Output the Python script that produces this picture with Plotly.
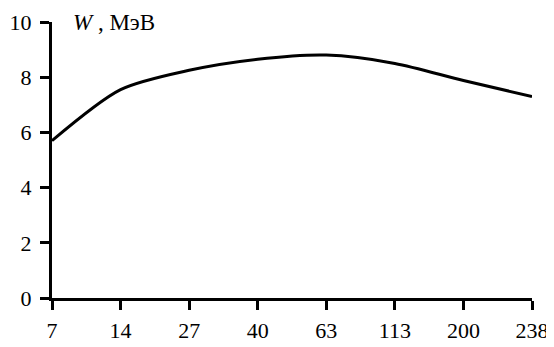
import plotly.graph_objects as go

mass_numbers = ["7", "14", "27", "40", "63", "113", "200", "238"]
binding_energy = [5.7, 7.55, 8.25, 8.65, 8.8, 8.5, 7.88, 7.3]
y_ticks = [0, 2, 4, 6, 8, 10]

FONT = "Liberation Serif"
TICK_SIZE = 22

fig = go.Figure()
fig.add_trace(go.Scatter(
    x=mass_numbers, y=binding_energy, mode="lines",
    line=dict(color="black", width=3, shape="spline", smoothing=0.8),
    cliponaxis=False, showlegend=False, hoverinfo="skip",
))

fig.update_layout(
    width=554, height=347,
    margin=dict(l=44, r=30, t=14, b=57),
    paper_bgcolor="white", plot_bgcolor="white",
    font=dict(family=FONT, size=TICK_SIZE, color="black"),
    xaxis=dict(
        type="category", range=[0, 7], showgrid=False, zeroline=False,
        automargin=False,
        showline=True, linecolor="black", linewidth=3,
        ticks="outside", ticklen=9, tickwidth=2.5, tickcolor="black",
        ticklabelstandoff=2,
        tickfont=dict(family=FONT, size=TICK_SIZE, color="black"),
    ),
    yaxis=dict(
        range=[0, 10], tickvals=y_ticks, showgrid=False, zeroline=False,
        automargin=False,
        showline=True, linecolor="black", linewidth=3,
        ticks="outside", ticklen=9, tickwidth=2.5, tickcolor="black",
        ticklabelstandoff=4,
        tickfont=dict(family=FONT, size=TICK_SIZE, color="black"),
    ),
    annotations=[
        dict(text="<i>W</i> , МэВ", xref="x", yref="y", x=0.27, y=10,
             xanchor="left", yanchor="middle", showarrow=False,
             font=dict(family=FONT, size=23, color="black")),
        dict(text="<i>A</i>", xref="x", yref="y", x=7.04, y=0.83,
             xanchor="center", yanchor="middle", showarrow=False,
             font=dict(family=FONT, size=22, color="black")),
    ],
)

fig.write_html("out.html")
